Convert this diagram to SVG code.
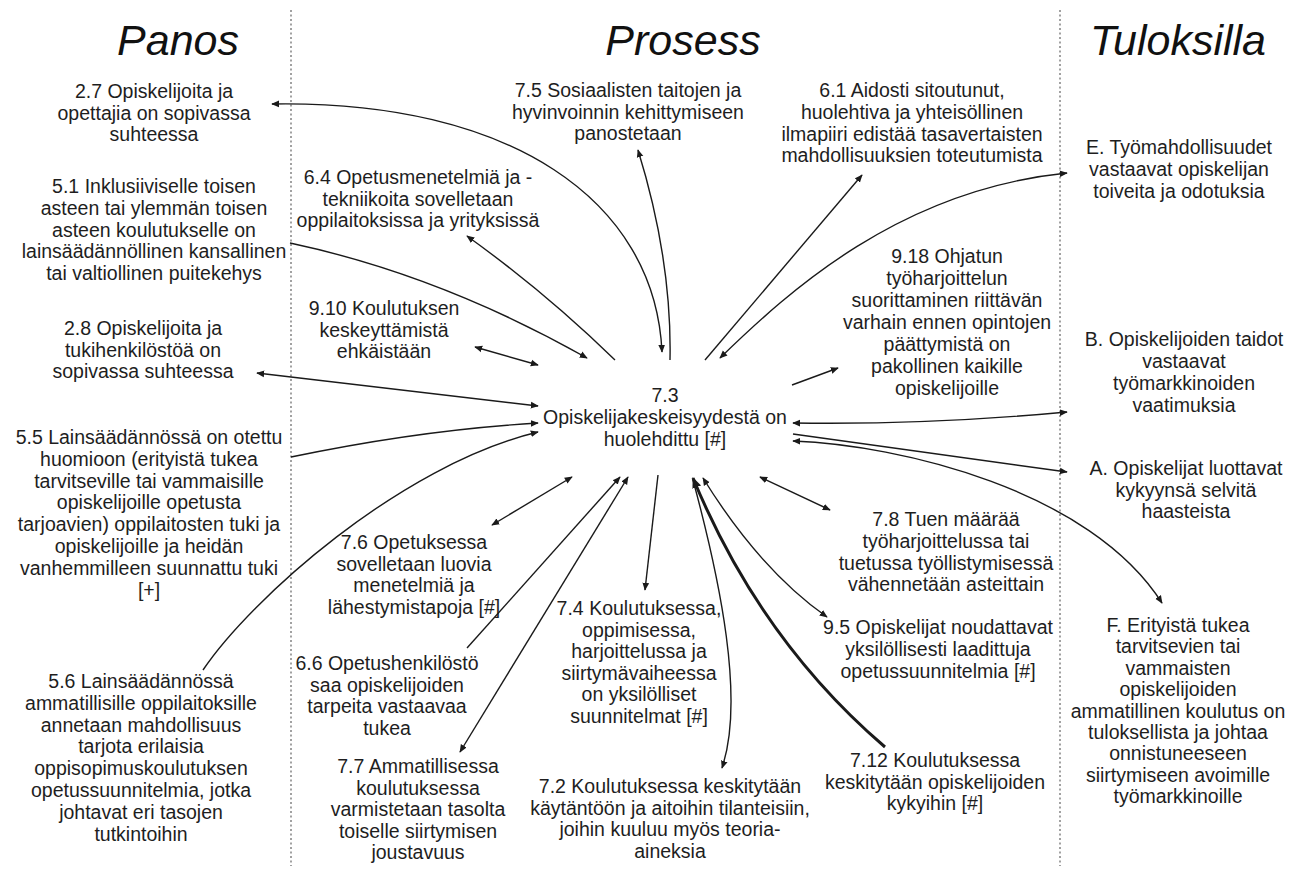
<svg xmlns="http://www.w3.org/2000/svg" width="1297" height="869" viewBox="0 0 1297 869">
<defs>
<style>
.t{font-family:"Liberation Sans",Arial,Helvetica,sans-serif;font-size:19.5px;fill:#1e1e1e;text-anchor:middle}
.h{font-family:"Liberation Sans",Arial,Helvetica,sans-serif;font-size:43px;font-style:italic;fill:#111;text-anchor:middle}
.c{fill:none;stroke:#1a1a1a;stroke-width:1.4}
.ck{fill:none;stroke:#1a1a1a;stroke-width:3}
.d{stroke:#8a8a8a;stroke-width:1.6;stroke-dasharray:2 2.5}
</style>
<marker id="a" viewBox="0 0 10 10" refX="9" refY="5" markerWidth="8" markerHeight="8" markerUnits="userSpaceOnUse" orient="auto-start-reverse"><path d="M0,0.8 L10,5 L0,9.2 z" fill="#1a1a1a"/></marker>
<marker id="ab" viewBox="0 0 10 10" refX="9" refY="5" markerWidth="11" markerHeight="11" markerUnits="userSpaceOnUse" orient="auto-start-reverse"><path d="M0,0.8 L10,5 L0,9.2 z" fill="#1a1a1a"/></marker>
</defs>
<rect width="1297" height="869" fill="#ffffff"/>

<g id="dividers">
<line class="d" x1="291" y1="10" x2="291" y2="866"/>
<line class="d" x1="1060" y1="10" x2="1060" y2="866"/>
</g>

<g id="headers">
<text class="h" x="178" y="55">Panos</text>
<text class="h" x="683" y="55">Prosess</text>
<text class="h" x="1178" y="55">Tuloksilla</text>
</g>

<g id="connectors">
<path class="c" d="M662,352 C655,200 510,100 272,104" marker-start="url(#a)" marker-end="url(#a)"/>
<path class="c" d="M670,360 Q672,260 638,150" marker-end="url(#a)"/>
<path class="c" d="M615,360 Q545,292 467,236" marker-end="url(#a)"/>
<path class="c" d="M290,243 Q440,275 587,358" marker-end="url(#a)"/>
<path class="c" d="M475,347 L538,365" marker-start="url(#a)" marker-end="url(#a)"/>
<path class="c" d="M538,406 L257,373" marker-start="url(#a)" marker-end="url(#a)"/>
<path class="c" d="M291,457 Q420,430 538,423" marker-end="url(#a)"/>
<path class="c" d="M203,670 C250,600 400,465 538,432" marker-end="url(#a)"/>
<path class="c" d="M572,477 L492,525" marker-start="url(#a)" marker-end="url(#a)"/>
<path class="c" d="M467,648 L620,477" marker-end="url(#a)"/>
<path class="c" d="M628,477 L460,752" marker-start="url(#a)" marker-end="url(#a)"/>
<path class="c" d="M658,475 L645,590" marker-end="url(#a)"/>
<path class="c" d="M693,480 C720,580 745,700 722,768" marker-end="url(#a)"/>
<path class="ck" d="M885,747 Q760,640 693,478" marker-end="url(#ab)"/>
<path class="c" d="M703,478 Q760,570 827,617" marker-start="url(#a)" marker-end="url(#a)"/>
<path class="c" d="M760,477 L830,510" marker-start="url(#a)" marker-end="url(#a)"/>
<path class="c" d="M705,360 Q790,260 862,175" marker-end="url(#a)"/>
<path class="c" d="M720,358 C790,290 900,190 1067,173" marker-start="url(#a)" marker-end="url(#a)"/>
<path class="c" d="M792,385 L838,368" marker-end="url(#a)"/>
<path class="c" d="M793,423 Q930,425 1067,412" marker-start="url(#a)" marker-end="url(#a)"/>
<path class="c" d="M793,434 L1067,472" marker-end="url(#a)"/>
<path class="c" d="M793,441 C900,445 1090,490 1162,603" marker-start="url(#a)" marker-end="url(#a)"/>
</g>

<g id="n-2-7"><text class="t" x="154" y="98"><tspan x="154">2.7 Opiskelijoita ja</tspan><tspan x="154" dy="21.6">opettajia on sopivassa</tspan><tspan x="154" dy="21.6">suhteessa</tspan></text></g>
<g id="n-5-1"><text class="t" x="154" y="193"><tspan x="154">5.1 Inklusiiviselle toisen</tspan><tspan x="154" dy="21.8">asteen tai ylemmän toisen</tspan><tspan x="154" dy="21.8">asteen koulutukselle on</tspan><tspan x="154" dy="21.8">lainsäädännöllinen kansallinen</tspan><tspan x="154" dy="21.8">tai valtiollinen puitekehys</tspan></text></g>
<g id="n-2-8"><text class="t" x="143" y="335"><tspan x="143">2.8 Opiskelijoita ja</tspan><tspan x="143" dy="21.6">tukihenkilöstöä on</tspan><tspan x="143" dy="21.6">sopivassa suhteessa</tspan></text></g>
<g id="n-5-5"><text class="t" x="149" y="444"><tspan x="149">5.5 Lainsäädännössä on otettu</tspan><tspan x="149" dy="21.8">huomioon (erityistä tukea</tspan><tspan x="149" dy="21.8">tarvitseville tai vammaisille</tspan><tspan x="149" dy="21.8">opiskelijoille opetusta</tspan><tspan x="149" dy="21.8">tarjoavien) oppilaitosten tuki ja</tspan><tspan x="149" dy="21.8">opiskelijoille ja heidän</tspan><tspan x="149" dy="21.8">vanhemmilleen suunnattu tuki</tspan><tspan x="149" dy="21.8">[+]</tspan></text></g>
<g id="n-5-6"><text class="t" x="141" y="688"><tspan x="141">5.6 Lainsäädännössä</tspan><tspan x="141" dy="21.8">ammatillisille oppilaitoksille</tspan><tspan x="141" dy="21.8">annetaan mahdollisuus</tspan><tspan x="141" dy="21.8">tarjota erilaisia</tspan><tspan x="141" dy="21.8">oppisopimuskoulutuksen</tspan><tspan x="141" dy="21.8">opetussuunnitelmia, jotka</tspan><tspan x="141" dy="21.8">johtavat eri tasojen</tspan><tspan x="141" dy="21.8">tutkintoihin</tspan></text></g>

<g id="n-7-5"><text class="t" x="628" y="97"><tspan x="628">7.5 Sosiaalisten taitojen ja</tspan><tspan x="628" dy="21.6">hyvinvoinnin kehittymiseen</tspan><tspan x="628" dy="21.6">panostetaan</tspan></text></g>
<g id="n-6-4"><text class="t" x="418" y="184"><tspan x="418">6.4 Opetusmenetelmiä ja -</tspan><tspan x="418" dy="21.6">tekniikoita sovelletaan</tspan><tspan x="418" dy="21.6">oppilaitoksissa ja yrityksissä</tspan></text></g>
<g id="n-9-10"><text class="t" x="384" y="315"><tspan x="384">9.10 Koulutuksen</tspan><tspan x="384" dy="21.6">keskeyttämistä</tspan><tspan x="384" dy="21.6">ehkäistään</tspan></text></g>
<g id="n-7-3"><text class="t" x="665" y="402"><tspan x="665">7.3</tspan><tspan x="665" dy="22">Opiskelijakeskeisyydestä on</tspan><tspan x="665" dy="22">huolehdittu [#]</tspan></text></g>
<g id="n-7-6"><text class="t" x="414" y="549"><tspan x="414">7.6 Opetuksessa</tspan><tspan x="414" dy="21.6">sovelletaan luovia</tspan><tspan x="414" dy="21.6">menetelmiä ja</tspan><tspan x="414" dy="21.6">lähestymistapoja [#]</tspan></text></g>
<g id="n-6-6"><text class="t" x="387" y="670"><tspan x="387">6.6 Opetushenkilöstö</tspan><tspan x="387" dy="21.6">saa opiskelijoiden</tspan><tspan x="387" dy="21.6">tarpeita vastaavaa</tspan><tspan x="387" dy="21.6">tukea</tspan></text></g>
<g id="n-7-7"><text class="t" x="418" y="773"><tspan x="418">7.7 Ammatillisessa</tspan><tspan x="418" dy="21.6">koulutuksessa</tspan><tspan x="418" dy="21.6">varmistetaan tasolta</tspan><tspan x="418" dy="21.6">toiselle siirtymisen</tspan><tspan x="418" dy="21.6">joustavuus</tspan></text></g>
<g id="n-7-4"><text class="t" x="639" y="615"><tspan x="639">7.4 Koulutuksessa,</tspan><tspan x="639" dy="21.6">oppimisessa,</tspan><tspan x="639" dy="21.6">harjoittelussa ja</tspan><tspan x="639" dy="21.6">siirtymävaiheessa</tspan><tspan x="639" dy="21.6">on yksilölliset</tspan><tspan x="639" dy="21.6">suunnitelmat [#]</tspan></text></g>
<g id="n-7-2"><text class="t" x="670" y="793"><tspan x="670">7.2 Koulutuksessa keskitytään</tspan><tspan x="670" dy="21.6">käytäntöön ja aitoihin tilanteisiin,</tspan><tspan x="670" dy="21.6">joihin kuuluu myös teoria-</tspan><tspan x="670" dy="21.6">aineksia</tspan></text></g>

<g id="n-6-1"><text class="t" x="912" y="97"><tspan x="912">6.1 Aidosti sitoutunut,</tspan><tspan x="912" dy="21.8">huolehtiva ja yhteisöllinen</tspan><tspan x="912" dy="21.8">ilmapiiri edistää tasavertaisten</tspan><tspan x="912" dy="21.8">mahdollisuuksien toteutumista</tspan></text></g>
<g id="n-9-18"><text class="t" x="947" y="263"><tspan x="947">9.18 Ohjatun</tspan><tspan x="947" dy="22">työharjoittelun</tspan><tspan x="947" dy="22">suorittaminen riittävän</tspan><tspan x="947" dy="22">varhain ennen opintojen</tspan><tspan x="947" dy="22">päättymistä on</tspan><tspan x="947" dy="22">pakollinen kaikille</tspan><tspan x="947" dy="22">opiskelijoille</tspan></text></g>
<g id="n-7-8"><text class="t" x="946" y="526"><tspan x="946">7.8 Tuen määrää</tspan><tspan x="946" dy="21.8">työharjoittelussa tai</tspan><tspan x="946" dy="21.8">tuetussa työllistymisessä</tspan><tspan x="946" dy="21.8">vähennetään asteittain</tspan></text></g>
<g id="n-9-5"><text class="t" x="938" y="634"><tspan x="938">9.5 Opiskelijat noudattavat</tspan><tspan x="938" dy="22">yksilöllisesti laadittuja</tspan><tspan x="938" dy="22">opetussuunnitelmia [#]</tspan></text></g>
<g id="n-7-12"><text class="t" x="935" y="767"><tspan x="935">7.12 Koulutuksessa</tspan><tspan x="935" dy="21.6">keskitytään opiskelijoiden</tspan><tspan x="935" dy="21.6">kykyihin [#]</tspan></text></g>

<g id="n-E"><text class="t" x="1179" y="154"><tspan x="1179">E. Työmahdollisuudet</tspan><tspan x="1179" dy="22">vastaavat opiskelijan</tspan><tspan x="1179" dy="22">toiveita ja odotuksia</tspan></text></g>
<g id="n-B"><text class="t" x="1184" y="346"><tspan x="1184">B. Opiskelijoiden taidot</tspan><tspan x="1184" dy="22">vastaavat</tspan><tspan x="1184" dy="22">työmarkkinoiden</tspan><tspan x="1184" dy="22">vaatimuksia</tspan></text></g>
<g id="n-A"><text class="t" x="1186" y="475"><tspan x="1186">A. Opiskelijat luottavat</tspan><tspan x="1186" dy="21.6">kykyynsä selvitä</tspan><tspan x="1186" dy="21.6">haasteista</tspan></text></g>
<g id="n-F"><text class="t" x="1178" y="632"><tspan x="1178">F. Erityistä tukea</tspan><tspan x="1178" dy="21.4">tarvitsevien tai</tspan><tspan x="1178" dy="21.4">vammaisten</tspan><tspan x="1178" dy="21.4">opiskelijoiden</tspan><tspan x="1178" dy="21.4">ammatillinen koulutus on</tspan><tspan x="1178" dy="21.4">tuloksellista ja johtaa</tspan><tspan x="1178" dy="21.4">onnistuneeseen</tspan><tspan x="1178" dy="21.4">siirtymiseen avoimille</tspan><tspan x="1178" dy="21.4">työmarkkinoille</tspan></text></g>
</svg>
